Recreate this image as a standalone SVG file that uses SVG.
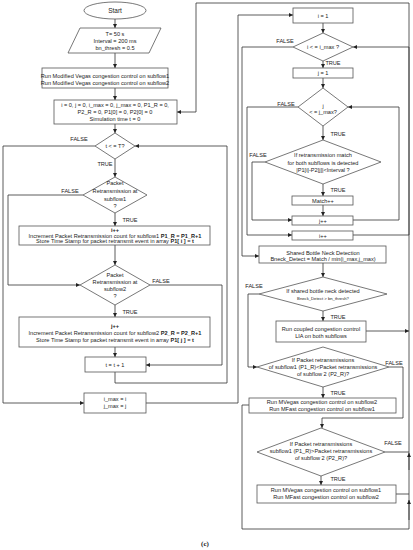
<svg xmlns="http://www.w3.org/2000/svg" width="413" height="550" viewBox="0 0 413 550">
<defs>
<marker id="ah" viewBox="0 0 10 10" refX="10" refY="5" markerWidth="4" markerHeight="4" orient="auto" markerUnits="userSpaceOnUse">
<path d="M0,0 L10,5 L0,10 z" fill="#222"/>
</marker>
<style>
.n{fill:#fff;stroke:#555;stroke-width:0.8}
.c{fill:none;stroke:#333;stroke-width:0.8;marker-end:url(#ah)}
.p{fill:none;stroke:#333;stroke-width:0.8}
text{font-family:"Liberation Sans",Arial,sans-serif;fill:#222;font-size:5.6px;text-anchor:middle}
.l{font-size:5.6px}
.b{font-weight:bold}
</style>
</defs>
<rect width="413" height="550" fill="#fff"/>

<g id="connectors">
<path class="c" d="M115,19 V28"/>
<path class="c" d="M115,53 V68"/>
<path class="c" d="M115,88 V100"/>
<path class="c" d="M115,124 V133"/>
<path class="c" d="M95,146 H3 V403 H84"/>
<path class="c" d="M115,159 V177"/>
<path class="c" d="M83,195 H8 V285 H80"/>
<path class="c" d="M115,213 V226"/>
<path class="c" d="M115,245 V265"/>
<path class="c" d="M150,285 H222 V365 H146"/>
<path class="c" d="M115,305 V317"/>
<path class="c" d="M115,347 V357"/>
<path class="c" d="M115,372 V383 H227 V146 H135"/>
<path class="c" d="M146,403 H238 V15 H293"/>
<path class="c" d="M409,529 V3 H196 V112 H177"/>
<path class="c" d="M323,23 V33"/>
<path class="c" d="M293,47 H242 V256 H259"/>
<path class="c" d="M323,61 V68"/>
<path class="c" d="M323,78 V88"/>
<path class="c" d="M298,107 H247 V235 H292"/>
<path class="c" d="M323,126 V140"/>
<path class="c" d="M265,162 H252 V220 H292"/>
<path class="c" d="M323,184 V196"/>
<path class="c" d="M323,205 V216"/>
<path class="c" d="M353,220 H399 V107 H348"/>
<path class="c" d="M353,235 H409 V47 H353"/>
<path class="c" d="M323,263 V277"/>
<path class="c" d="M259,294 H248 V367 H257"/>
<path class="c" d="M323,311 V321"/>
<path class="c" d="M366,331 H409"/>
<path class="c" d="M389,367 H403 V418 H322 V428"/>
<path class="c" d="M323,387 V398"/>
<path class="p" d="M249,405 H242 V529 H409"/>
<path class="c" d="M409,520 V500"/>
<path class="p" d="M385,452 H409"/>
<path class="c" d="M409,470 V453"/>
<path class="c" d="M321,476 V485"/>
<path class="p" d="M396,494 H409"/>
</g>

<g id="labels">
<text x="79" y="141">FALSE</text>
<text x="105" y="166">TRUE</text>
<text x="70" y="193">FALSE</text>
<text x="130" y="222">TRUE</text>
<text x="161" y="283">FALSE</text>
<text x="130" y="314">TRUE</text>
<text x="285" y="43">FALSE</text>
<text x="333" y="65">TRUE</text>
<text x="286" y="106">FALSE</text>
<text x="338" y="136">TRUE</text>
<text x="258" y="157">FALSE</text>
<text x="338" y="192">TRUE</text>
<text x="254" y="288">FALSE</text>
<text x="338" y="319">TRUE</text>
<text x="394" y="365">FALSE</text>
<text x="338" y="395">TRUE</text>
<text x="393" y="445">FALSE</text>
<text x="338" y="481">TRUE</text>
</g>

<g id="start">
<ellipse class="n" cx="115" cy="10.5" rx="31" ry="8.5"/>
<text x="115" y="12.5" style="font-size:6.5px">Start</text>
</g>
<g id="params">
<polygon class="n" points="80,28 161,28 149,53 68,53"/>
<text x="115" y="36">T= 50 s</text>
<text x="115" y="43">Interval = 200 ms</text>
<text x="115" y="50">bn_thresh = 0.5</text>
</g>
<g id="run-modified-vegas">
<rect class="n" x="42" y="68" width="126" height="20"/>
<text x="105" y="78">Run Modified Vegas congestion control on subflow1</text>
<text x="105" y="85">Run Modified Vegas congestion control on subflow2</text>
</g>
<g id="init">
<rect class="n" x="54" y="100" width="123" height="24"/>
<text x="115" y="107">i = 0, j = 0, i_max = 0, j_max = 0, P1_R = 0,</text>
<text x="115" y="114">P2_R = 0, P1[0] = 0, P2[0] = 0</text>
<text x="115" y="121">Simulation time t = 0</text>
</g>
<g id="t-check">
<polygon class="n" points="115,133 135,146 115,159 95,146"/>
<text x="115" y="148">t &lt; = T?</text>
</g>
<g id="retrans-sub1">
<polygon class="n" points="115,177 147,195 115,213 83,195"/>
<text x="115" y="185">Packet</text>
<text x="115" y="193">Retransmission at</text>
<text x="115" y="200.5">subflow1</text>
<text x="115" y="208">?</text>
</g>
<g id="inc-sub1">
<rect class="n" x="19" y="226" width="191" height="19"/>
<text x="115" y="231.5" class="b">i++</text>
<text x="115" y="237.5">Increment Packet Retransmission count for subflow1 <tspan class="b">P1_R = P1_R+1</tspan></text>
<text x="115" y="243">Store Time Stamp for packet retransmit event in array <tspan class="b">P1[ i ] = t</tspan></text>
</g>
<g id="retrans-sub2">
<polygon class="n" points="115,265 150,285 115,305 80,285"/>
<text x="115" y="277">Packet</text>
<text x="115" y="284">Retransmission at</text>
<text x="115" y="291">subflow2</text>
<text x="115" y="298">?</text>
</g>
<g id="inc-sub2">
<rect class="n" x="19" y="317" width="191" height="30"/>
<text x="115" y="328" class="b">j++</text>
<text x="115" y="334.5">Increment Packet Retransmission count for subflow2 <tspan class="b">P2_R = P2_R+1</tspan></text>
<text x="115" y="342">Store Time Stamp for packet retransmit event in array <tspan class="b">P1[ j ] = t</tspan></text>
</g>
<g id="t-inc">
<rect class="n" x="85" y="357" width="61" height="15"/>
<text x="115" y="366.5">t = t + 1</text>
</g>
<g id="maxes">
<rect class="n" x="84" y="393" width="62" height="20"/>
<text x="115" y="401">i_max = i</text>
<text x="115" y="408">j_max = j</text>
</g>

<g id="i-init">
<rect class="n" x="293" y="8" width="60" height="15"/>
<text x="323" y="17.5">i = 1</text>
</g>
<g id="i-check">
<polygon class="n" points="323,33 353,47 323,61 293,47"/>
<text x="323" y="49">i &lt; = i_max ?</text>
</g>
<g id="j-init">
<rect class="n" x="293" y="68" width="60" height="10"/>
<text x="323" y="75">j = 1</text>
</g>
<g id="j-check">
<polygon class="n" points="323,88 348,107 323,126 298,107"/>
<text x="323" y="108">j</text>
<text x="323" y="114">&lt; = j_max?</text>
</g>
<g id="match-check">
<polygon class="n" points="323,140 381,162 323,184 265,162"/>
<text x="323" y="157">If retransmission match</text>
<text x="323" y="164.5">for both subflows is detected</text>
<text x="323" y="172">|P1[i]-P2[j]|&lt;Interval ?</text>
</g>
<g id="match-inc">
<rect class="n" x="292" y="196" width="61" height="9"/>
<text x="323" y="202.5">Match++</text>
</g>
<g id="j-inc">
<rect class="n" x="292" y="216" width="61" height="9"/>
<text x="323" y="222.5">j++</text>
</g>
<g id="i-inc">
<rect class="n" x="292" y="231" width="61" height="9"/>
<text x="323" y="237.5">i++</text>
</g>
<g id="shared-detect">
<rect class="n" x="259" y="246" width="127" height="17"/>
<text x="323" y="254.5">Shared Bottle Neck Detection</text>
<text x="323" y="261">Bneck_Detect = Match / min(i_max,j_max)</text>
</g>
<g id="shared-check">
<polygon class="n" points="323,277 387,294 323,311 259,294"/>
<text x="323" y="293">If shared bottle neck detected</text>
<text x="323" y="299.5" style="font-size:4.2px">Bneck_Detect &gt; bn_thresh?</text>
</g>
<g id="coupled">
<rect class="n" x="276" y="321" width="90" height="21"/>
<text x="321" y="330.5">Run coupled congestion control</text>
<text x="321" y="337.5">LIA on both subflows</text>
</g>
<g id="cmp-less">
<polygon class="n" points="323,347 389,367 323,387 257,367"/>
<text x="323" y="362">If Packet retransmissions</text>
<text x="323" y="369">of subflow1 (P1_R)&lt;Packet retransmissions</text>
<text x="323" y="376">of subflow 2 (P2_R)?</text>
</g>
<g id="mvegas-sub2">
<rect class="n" x="249" y="398" width="147" height="15"/>
<text x="322" y="404">Run MVegas congestion control on subflow2</text>
<text x="322" y="410.5">Run MFast congestion control on subflow1</text>
</g>
<g id="cmp-greater">
<polygon class="n" points="321,428 385,452 321,476 257,452"/>
<text x="321" y="446">If Packet retransmissions</text>
<text x="321" y="453">subflow1 (P1_R)&gt;Packet retransmissions</text>
<text x="321" y="460">of subflow 2 (P2_R)?</text>
</g>
<g id="mvegas-sub1">
<rect class="n" x="257" y="485" width="139" height="18"/>
<text x="326" y="492">Run MVegas congestion control on subflow1</text>
<text x="326" y="499">Run MFast congestion control on subflow2</text>
</g>
<text x="205" y="546" style="font-family:'Liberation Serif',serif;font-weight:bold;font-size:7px">(c)</text>
</svg>
